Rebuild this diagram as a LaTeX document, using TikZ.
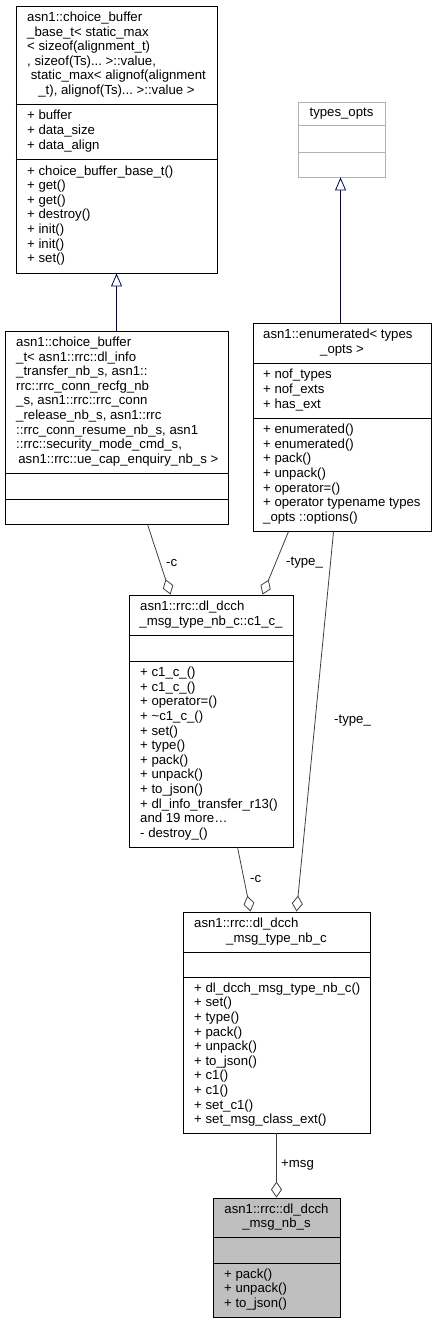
\documentclass[tikz,border=0pt]{standalone}
\usepackage{fontspec}
\setmainfont[Ligatures=NoCommon]{Liberation Sans}
\usetikzlibrary{arrows.meta,calc}
\newcommand\umlfont{\fontsize{13.2pt}{14.6pt}\selectfont\frenchspacing}
\begin{document}
\begin{tikzpicture}[x=1pt,y=-1pt,
  box/.style={draw=black,line width=0.9pt,fill=white,inner sep=0pt,anchor=center},
  sep/.style={line width=0.9pt},
  txt/.style={font=\umlfont,inner sep=0pt,align=left,anchor=west},
  ttl/.style={font=\umlfont,inner sep=0pt,anchor=center},
  lbl/.style={font=\umlfont,inner sep=0pt,anchor=west},
  assoc/.style={draw=black!75,line width=0.8pt,-{Diamond[open,length=16pt,width=11pt,line width=0.8pt]}},
  inherit/.style={draw=blue!35!black,line width=0.8pt,-{Triangle[open,length=13pt,width=11pt,line width=0.8pt]}}]
\fill[white] (0,0) rectangle (437,1324);
\useasboundingbox (0,0) rectangle (437,1324);

% ---- A: choice_buffer_base_t
\node[box,minimum width=201pt,minimum height=267pt] (A) at (116.5,139.5) {};
\draw[sep] (A.west |- 0,104) -- (A.east |- 0,104);
\draw[sep] (A.west |- 0,159) -- (A.east |- 0,159);
\node[txt] (At) at (27,47.7) {\strut asn1::choice\_buffer\\\_base\_t< static\_max\\< sizeof(alignment\_t)\\, sizeof(Ts)... >::value,\\\ static\_max< alignof(alignment\strut};
\node[ttl] (At2) at (116.5,91.5) {\strut\_t), alignof(Ts)... >::value >\strut};
\node[txt] (Aa) at (27,131.5) {\strut + buffer\\+ data\_size\\+ data\_align\strut};
\node[txt] (Am) at (27,216) {\strut + choice\_buffer\_base\_t()\\+ get()\\+ get()\\+ destroy()\\+ init()\\+ init()\\+ set()\strut};

% ---- B: types_opts
\node[box,draw=black!30,minimum width=87pt,minimum height=75pt] (B) at (341.5,139.5) {};
\draw[sep,draw=black!30] (B.west |- 0,125) -- (B.east |- 0,125);
\draw[sep,draw=black!30] (B.west |- 0,152) -- (B.east |- 0,152);
\node[ttl] (Bt) at (341.5,113.5) {\strut types\_opts\strut};

% ---- C: choice_buffer_t
\node[box,minimum width=223pt,minimum height=193pt] (C) at (116.5,427.5) {};
\draw[sep] (C.west |- 0,473) -- (C.east |- 0,473);
\draw[sep] (C.west |- 0,499) -- (C.east |- 0,499);
\node[txt] (Ct) at (16,394.7) {\strut asn1::choice\_buffer\\\_t< asn1::rrc::dl\_info\\\_transfer\_nb\_s, asn1::\\rrc::rrc\_conn\_recfg\_nb\\\_s, asn1::rrc::rrc\_conn\\\_release\_nb\_s, asn1::rrc\\::rrc\_conn\_resume\_nb\_s, asn1\\::rrc::security\_mode\_cmd\_s,\strut};
\node[ttl] (Ct2) at (116.5,460.4) {\strut\ asn1::rrc::ue\_cap\_enquiry\_nb\_s >\strut};

% ---- D: enumerated
\node[box,minimum width=178pt,minimum height=208pt] (D) at (342,427) {};
\draw[sep] (D.west |- 0,363) -- (D.east |- 0,363);
\draw[sep] (D.west |- 0,418) -- (D.east |- 0,418);
\node[txt] (Dt) at (263,335.7) {\strut asn1::enumerated< types\strut};
\node[ttl] (Dt2) at (342,350.3) {\strut\_opts >\strut};
\node[txt] (Da) at (263,390.5) {\strut + nof\_types\\+ nof\_exts\\+ has\_ext\strut};
\node[txt] (Dm) at (263,474.5) {\strut + enumerated()\\+ enumerated()\\+ pack()\\+ unpack()\\+ operator=()\\+ operator typename types\\\_opts ::options()\strut};

% ---- E: c1_c_
\node[box,minimum width=164pt,minimum height=252pt] (E) at (211,721) {};
\draw[sep] (E.west |- 0,635) -- (E.east |- 0,635);
\draw[sep] (E.west |- 0,661) -- (E.east |- 0,661);
\node[txt] (Et) at (140,607.7) {\strut asn1::rrc::dl\_dcch\strut};
\node[ttl] (Et2) at (211,622.3) {\strut\_msg\_type\_nb\_c::c1\_c\_\strut};
\node[txt] (Em) at (140,754) {\strut + c1\_c\_()\\+ c1\_c\_()\\+ operator=()\\+ \textasciitilde c1\_c\_()\\+ set()\\+ type()\\+ pack()\\+ unpack()\\+ to\_json()\\+ dl\_info\_transfer\_r13()\\and 19 more\ldots\\- destroy\_()\strut};

% ---- F: dl_dcch_msg_type_nb_c
\node[box,minimum width=187pt,minimum height=221pt] (F) at (276.5,1022.5) {};
\draw[sep] (F.west |- 0,952) -- (F.east |- 0,952);
\draw[sep] (F.west |- 0,977) -- (F.east |- 0,977);
\node[txt] (Ft) at (194,924.7) {\strut asn1::rrc::dl\_dcch\strut};
\node[ttl] (Ft2) at (276.5,939.3) {\strut\_msg\_type\_nb\_c\strut};
\node[txt] (Fm) at (194,1055) {\strut + dl\_dcch\_msg\_type\_nb\_c()\\+ set()\\+ type()\\+ pack()\\+ unpack()\\+ to\_json()\\+ c1()\\+ c1()\\+ set\_c1()\\+ set\_msg\_class\_ext()\strut};

% ---- G: dl_dcch_msg_nb_s
\node[box,fill=black!25,minimum width=127pt,minimum height=119pt] (G) at (276.5,1257.5) {};
\draw[sep] (G.west |- 0,1237) -- (G.east |- 0,1237);
\draw[sep] (G.west |- 0,1263) -- (G.east |- 0,1263);
\node[ttl] (Gt) at (276.5,1210.2) {\strut asn1::rrc::dl\_dcch\strut};
\node[ttl] (Gt2) at (276.5,1224.8) {\strut\_msg\_nb\_s\strut};
\node[txt] (Gm) at (224,1290) {\strut + pack()\\+ unpack()\\+ to\_json()\strut};

% ---- inheritance
\draw[inherit] ($(C.north west)+(112,0)$) -- ($(A.south west)+(101,0)$);
\draw[inherit] ($(D.north west)+(88,0)$) -- ($(B.south west)+(43,0)$);

% ---- associations
\draw[assoc] ($(C.south west)+(143,0)$) -- ($(E.north west)+(42,0)$);
\draw[assoc] ($(D.south west)+(36,0)$) -- ($(E.north west)+(134,0)$);
\draw[assoc] ($(D.south west)+(81,0)$) -- ($(F.north west)+(114,0)$);
\draw[assoc] ($(E.south west)+(109,0)$) -- ($(F.north west)+(68,0)$);
\draw[assoc] (F.south) -- (G.north);

\node[lbl] (l1) at (166,563) {-c};
\node[lbl] (l2) at (286,563) {-type\_};
\node[lbl] (l3) at (334,721) {-type\_};
\node[lbl] (l4) at (250,879) {-c};
\node[lbl] (l5) at (281,1165) {+msg};
\end{tikzpicture}
\end{document}
